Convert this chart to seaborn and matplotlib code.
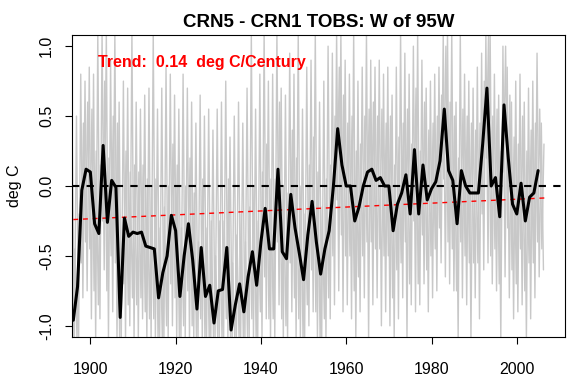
import numpy as np
import pandas as pd
import matplotlib
matplotlib.use("Agg")
import matplotlib.pyplot as plt
import seaborn as sns

# Annual CRN5 - CRN1 difference (black line), deg C
years = list(range(1896, 2006))
annual = [
    -0.96, -0.72, -0.03, 0.12, 0.10, -0.27, -0.34, 0.29, -0.26, 0.04,   # 1896-1905
    -0.01, -0.94, -0.23, -0.36, -0.33, -0.34, -0.33, -0.43, -0.44, -0.45,  # 1906-1915
    -0.80, -0.62, -0.50, -0.21, -0.32, -0.79, -0.50, -0.27, -0.53, -0.88,  # 1916-1925
    -0.44, -0.79, -0.71, -0.98, -0.75, -0.74, -0.44, -1.03, -0.85, -0.70,  # 1926-1935
    -0.90, -0.65, -0.47, -0.71, -0.40, -0.16, -0.45, -0.45, 0.12, -0.47,   # 1936-1945
    -0.52, -0.06, -0.30, -0.48, -0.67, -0.35, -0.11, -0.40, -0.63, -0.45,  # 1946-1955
    -0.32, 0.00, 0.41, 0.15, 0.00, 0.00, -0.25, -0.15, 0.00, 0.10,         # 1956-1965
    0.12, 0.04, 0.06, 0.00, 0.00, -0.32, -0.13, -0.05, 0.08, -0.20,        # 1966-1975
    0.26, -0.20, 0.15, -0.10, -0.02, 0.03, 0.18, 0.55, 0.11, 0.04,         # 1976-1985
    -0.27, 0.11, 0.00, -0.05, -0.05, -0.05, 0.30, 0.70, 0.00, 0.06,        # 1986-1995
    -0.22, 0.58, 0.20, -0.13, -0.20, 0.02, -0.25, -0.08, -0.05, 0.11,      # 1996-2005
]

# Monthly values (grey): extreme high / low of each year ...
grey_years = list(range(1896, 2007))
grey_hi = [
    0.35, 0.50, 0.80, 0.75, 0.85, 0.80, 1.10, 1.10, 1.10, 0.90,   # 1896-1905
    1.10, 0.60, 0.75, 0.70, 1.10, 0.60, 0.55, 0.65, 0.70, 1.10,   # 1906-1915
    0.55, 0.70, 0.85, 0.80, 0.65, 0.55, 0.80, 0.70, 0.60, 0.45,   # 1916-1925
    0.65, 0.50, 0.55, 0.40, 0.55, 0.60, 0.75, 0.35, 0.50, 0.60,   # 1926-1935
    0.45, 0.70, 1.10, 0.55, 0.80, 1.10, 0.75, 0.80, 1.10, 0.70,   # 1936-1945
    0.65, 0.95, 0.80, 1.10, 0.55, 0.85, 0.90, 1.10, 0.60, 0.75,   # 1946-1955
    1.00, 0.95, 1.10, 1.10, 0.90, 0.80, 1.10, 0.75, 0.85, 1.10,   # 1956-1965
    0.90, 0.85, 0.90, 0.80, 0.85, 0.65, 0.85, 1.10, 0.95, 0.80,   # 1966-1975
    1.00, 1.10, 0.90, 0.70, 0.75, 0.80, 0.85, 1.10, 1.10, 1.10,   # 1976-1985
    0.60, 1.10, 0.80, 0.75, 0.70, 0.85, 0.95, 1.10, 1.10, 0.80,   # 1986-1995
    0.65, 1.00, 0.85, 0.60, 0.75, 0.80, 0.60, 0.70, 0.75, 0.95,   # 1996-2005
    0.45,                                                          # 2006
]
grey_lo = [
    -1.10, -1.10, -0.80, -0.75, -0.95, -1.10, -0.95, -0.60, -1.10, -0.90,   # 1896-1905
    -1.10, -1.10, -1.10, -1.00, -1.10, -1.10, -0.95, -1.10, -1.10, -1.10,   # 1906-1915
    -1.10, -1.10, -1.10, -1.00, -1.10, -1.10, -1.10, -1.10, -1.10, -1.10,   # 1916-1925
    -1.10, -1.10, -1.10, -1.10, -1.10, -1.10, -1.10, -1.10, -1.10, -1.10,   # 1926-1935
    -1.10, -1.10, -1.10, -1.10, -1.10, -0.95, -1.10, -1.10, -0.85, -1.10,   # 1936-1945
    -1.10, -0.90, -1.10, -1.10, -1.10, -1.00, -0.90, -1.10, -1.10, -1.10,   # 1946-1955
    -0.95, -0.85, -0.75, -0.90, -0.85, -0.95, -1.10, -0.90, -0.80, -1.10,   # 1956-1965
    -0.85, -0.80, -1.00, -0.90, -1.00, -1.10, -0.95, -0.80, -1.10, -0.85,   # 1966-1975
    -0.90, -0.85, -0.70, -0.90, -0.80, -0.75, -0.55, -0.65, -0.70, -0.75,   # 1976-1985
    -1.10, -0.80, -0.85, -1.10, -0.80, -0.95, -0.60, -0.55, -0.70, -0.75,   # 1986-1995
    -1.10, -0.65, -0.80, -0.95, -0.90, -0.85, -1.10, -0.95, -0.80, -0.65,   # 1996-2005
    -0.60,                                                                   # 2006
]
# ... and the dense middle band where most months fall
core_hi = [
    -0.45, -0.20, 0.45, 0.60, 0.55, 0.25, 0.15, 0.75, 0.20, 0.50,   # 1896-1905
    0.45, -0.45, 0.25, 0.10, 0.15, 0.10, 0.15, 0.05, 0.00, 0.05,    # 1906-1915
    -0.30, -0.15, 0.00, 0.30, 0.15, -0.30, 0.00, 0.20, -0.05, -0.40,  # 1916-1925
    0.05, -0.30, -0.25, -0.50, -0.25, -0.25, 0.05, -0.55, -0.35, -0.20,  # 1926-1935
    -0.40, -0.15, 0.00, -0.25, 0.10, 0.30, 0.05, 0.05, 0.60, 0.00,  # 1936-1945
    -0.05, 0.40, 0.20, 0.00, -0.20, 0.15, 0.35, 0.10, -0.15, 0.05,  # 1946-1955
    0.15, 0.50, 0.85, 0.65, 0.45, 0.50, 0.25, 0.30, 0.50, 0.55,     # 1956-1965
    0.60, 0.50, 0.55, 0.45, 0.50, 0.15, 0.35, 0.45, 0.55, 0.30,     # 1966-1975
    0.70, 0.25, 0.60, 0.40, 0.45, 0.50, 0.65, 1.00, 0.60, 0.50,     # 1976-1985
    0.20, 0.55, 0.50, 0.45, 0.40, 0.45, 0.75, 1.10, 0.50, 0.55,     # 1986-1995
    0.25, 1.00, 0.65, 0.35, 0.30, 0.50, 0.25, 0.40, 0.45, 0.55,     # 1996-2005
    0.30,                                                            # 2006
]
core_lo = [
    -1.10, -1.10, -0.55, -0.40, -0.45, -0.75, -0.85, -0.25, -0.75, -0.50,  # 1896-1905
    -0.55, -1.10, -0.70, -0.85, -0.80, -0.85, -0.80, -0.90, -0.95, -0.95,  # 1906-1915
    -1.10, -1.10, -1.00, -0.70, -0.80, -1.10, -1.00, -0.75, -1.00, -1.10,  # 1916-1925
    -0.95, -1.10, -1.10, -1.10, -1.10, -1.10, -0.95, -1.10, -1.10, -1.10,  # 1926-1935
    -1.10, -1.10, -0.95, -1.10, -0.90, -0.65, -0.95, -0.95, -0.40, -0.95,  # 1936-1945
    -1.00, -0.55, -0.80, -0.95, -1.10, -0.85, -0.60, -0.90, -1.10, -0.95,  # 1946-1955
    -0.80, -0.50, -0.10, -0.35, -0.50, -0.50, -0.75, -0.65, -0.50, -0.40,  # 1956-1965
    -0.40, -0.45, -0.45, -0.50, -0.50, -0.80, -0.60, -0.55, -0.40, -0.70,  # 1966-1975
    -0.25, -0.70, -0.35, -0.60, -0.50, -0.45, -0.30, 0.05, -0.40, -0.45,   # 1976-1985
    -0.75, -0.40, -0.50, -0.55, -0.55, -0.55, -0.20, 0.20, -0.50, -0.45,   # 1986-1995
    -0.70, 0.10, -0.30, -0.60, -0.70, -0.45, -0.75, -0.55, -0.55, -0.40,   # 1996-2005
    -0.45,                                                                  # 2006
]

# Linear trend (red dashed)
trend_years = [1896, 2007]
trend_vals = [-0.24, -0.085]
trend_text = "Trend:  0.14  deg C/Century"

title = "CRN5 - CRN1 TOBS: W of 95W"
y_label = "deg C"
x_ticks = [1900, 1920, 1940, 1960, 1980, 2000]
y_ticks = [-1.0, -0.5, 0.0, 0.5, 1.0]

sns.set_theme(style="white")
plt.rcParams["font.family"] = ["Liberation Sans", "DejaVu Sans"]
plt.rcParams["text.color"] = "black"
plt.rcParams["axes.labelcolor"] = "black"

fig = plt.figure(figsize=(5.83, 3.90), dpi=100)
ax = fig.add_axes([0.1235, 0.1359, 0.8456, 0.7744])

# grey monthly trace: zig-zags between the yearly extremes and the core band
gx = np.array(grey_years, dtype=float)
outer = pd.DataFrame({
    "x": np.column_stack([gx - 0.25, gx + 0.25]).ravel(),
    "y": np.column_stack([grey_hi, grey_lo]).ravel(),
})
inner = pd.DataFrame({
    "x": np.column_stack([gx - 0.125, gx + 0.375]).ravel(),
    "y": np.column_stack([core_lo, core_hi]).ravel(),
})
for part in (outer, inner):
    sns.lineplot(data=part, x="x", y="y", ax=ax, color="#c8c8c8", lw=1.0,
                 estimator=None, sort=False)

ax.axhline(0, color="black", lw=1.5, linestyle=(0, (3.5, 3.5)))

sns.lineplot(x=trend_years, y=trend_vals, ax=ax, color="red", lw=1.0,
             linestyle=(0, (3.5, 3.5)), estimator=None)

sns.lineplot(x=years, y=annual, ax=ax, color="black", lw=2.2,
             estimator=None)

ax.set_xlim(1895.7, 2011.3)
ax.set_ylim(-1.08, 1.08)
ax.set_xticks(x_ticks)
ax.set_yticks(y_ticks)
ax.set_xticklabels([str(t) for t in x_ticks])
ax.set_yticklabels([f"{t:.1f}" for t in y_ticks], rotation=90, va="center")
ax.tick_params(axis="both", direction="out", length=5, width=0.8,
               colors="black", labelsize=11.5, bottom=True, left=True)
ax.tick_params(axis="x", pad=13)
ax.tick_params(axis="y", pad=8)
for s in ax.spines.values():
    s.set_color("black")
    s.set_linewidth(0.8)

ax.set_xlabel("")
ax.set_ylabel(y_label, fontsize=11.5, labelpad=12)
ax.set_title(title, fontsize=13.5, fontweight="bold", pad=6, color="black")
ax.text(0.052, 0.894, trend_text, transform=ax.transAxes, color="red",
        fontsize=11.5, fontweight="bold", va="baseline", ha="left")

fig.savefig("out.png", dpi=100)
